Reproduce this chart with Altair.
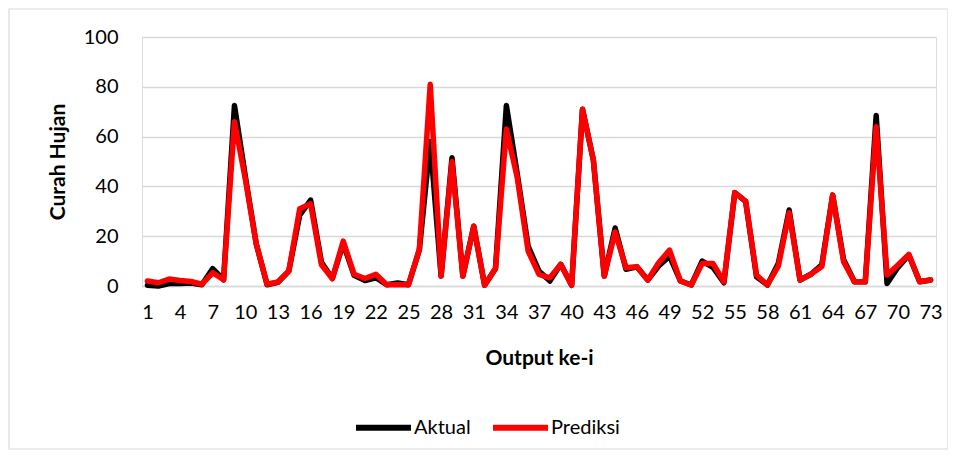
import altair as alt
import pandas as pd

output_ke = list(range(1, 74))
aktual = [0.3, 0, 1, 1, 1.2, 0.5, 7, 2.5, 72.5, 44,
          17, 0.5, 1.5, 6, 28.5, 34.5, 9.5, 3, 17, 4.3,
          2.2, 3.3, 0.5, 1.2, 0.5, 14.5, 58, 4, 51.5, 4,
          24, 0.3, 7, 72.5, 45, 16, 6, 2, 8.7, 0.3,
          71, 50.5, 4, 23.3, 6.7, 7.7, 2.4, 8, 12, 2,
          0.4, 10, 7.5, 1.3, 37.5, 34, 3.7, 0.4, 9, 30.5,
          2.4, 4.7, 8.5, 36.5, 10.7, 1.7, 1.7, 68.5, 1, 7.5,
          12.5, 1.7, 2.4]
prediksi = [2, 1.3, 2.8, 2.2, 1.8, 0.7, 5.3, 2.5, 66, 43,
            17, 0.7, 1.6, 6, 31, 33, 8.5, 3, 18, 4.7,
            3, 4.7, 0.5, 0.5, 0.5, 14.7, 81, 4, 50, 4,
            24, 0.3, 7, 63, 43.5, 14, 4.7, 3.3, 8.7, 0.3,
            71, 50.5, 4, 21.7, 7.3, 7.7, 2.4, 9.3, 14.4, 2,
            0.4, 9, 9, 1.7, 37.5, 34, 4.4, 0.4, 8, 29.4,
            2.4, 4.7, 7.8, 36.5, 9.8, 1.7, 1.7, 64, 4.4, 8.4,
            12.7, 1.7, 2.4]
series_names = ["Aktual", "Prediksi"]
series_colors = ["#000000", "#ff0000"]
x_ticks = list(range(1, 74, 3))
y_ticks = [0, 20, 40, 60, 80, 100]

rows = []
for name, vals in zip(series_names, [aktual, prediksi]):
    for x, v in zip(output_ke, vals):
        rows.append({"x": x, "v": v, "s": name})
df = pd.DataFrame(rows)

FONT = "Lato"
W, H = 794, 249

lines = alt.Chart(df).mark_line(strokeWidth=5.5, strokeJoin="round", strokeCap="round").encode(
    x=alt.X("x:Q",
            scale=alt.Scale(domain=[0.5, 73.5], nice=False, zero=False),
            axis=alt.Axis(values=x_ticks, format="d", grid=False, ticks=False, tickSize=0,
                          domainColor="#d9d9d9", domainWidth=1.5,
                          labelFontSize=20, labelFont=FONT, labelColor="#000000",
                          labelPadding=16, labelFlush=False, labelOverlap=False,
                          title="Output ke-i", titleFont=FONT, titleFontSize=21,
                          titleFontWeight="bold", titleColor="#000000",
                          titleX=W / 2, titleY=72, titleBaseline="middle", titleAlign="center")),
    y=alt.Y("v:Q",
            scale=alt.Scale(domain=[0, 100], nice=False),
            axis=alt.Axis(values=y_ticks, grid=True, gridColor="#d9d9d9", gridWidth=1.5,
                          domain=False, ticks=False, tickSize=0,
                          labelFontSize=20, labelFont=FONT, labelColor="#000000",
                          labelPadding=24,
                          title="Curah Hujan", titleFont=FONT, titleFontSize=21,
                          titleFontWeight="bold", titleColor="#000000",
                          titleAngle=270, titleX=-84, titleY=H / 2,
                          titleBaseline="middle", titleAlign="center")),
    color=alt.Color("s:N", sort=series_names,
                    scale=alt.Scale(domain=series_names, range=series_colors),
                    legend=alt.Legend(title=None, orient="none", direction="horizontal",
                                      legendX=211, legendY=360, padding=0,
                                      symbolType="stroke", symbolSize=3025,
                                      symbolStrokeWidth=6, labelOffset=0,
                                      columnPadding=10, labelFontSize=20, labelFont=FONT,
                                      labelColor="#000000")),
    order=alt.Order("x:Q"),
)

frame = alt.Chart(alt.Data(values=[{}])).mark_rect(
    fill=None, stroke="#d9d9d9", strokeWidth=1.2, filled=False
).encode(
    x=alt.value(-133), x2=alt.value(806), y=alt.value(-28), y2=alt.value(412)
)

chart = alt.layer(frame, lines).properties(
    width=W, height=H,
    autosize=alt.AutoSizeParams(type="none"),
    padding={"left": 134, "top": 29, "right": 12, "bottom": 165},
).configure_view(stroke=None).configure(background="white")

chart.save("out.html", embed_options={"renderer": "svg", "actions": False})
